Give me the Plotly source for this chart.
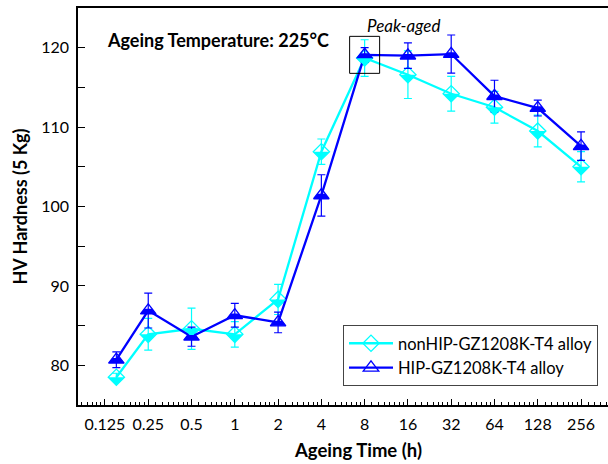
import numpy as np
import plotly.graph_objects as go

# ---------------- data ----------------
times = [0.15, 0.25, 0.5, 1, 2, 4, 8, 16, 32, 64, 128, 256]
nonhip = [78.5, 83.9, 84.6, 83.9, 88.3, 106.9, 118.7, 116.6, 114.2, 112.5, 109.5, 105.0]
nonhip_err = [0.5, 2.0, 2.6, 1.6, 1.9, 1.6, 2.3, 3.0, 2.2, 2.0, 2.0, 1.9]
hip = [80.7, 86.9, 83.6, 86.3, 85.4, 101.4, 119.1, 119.0, 119.2, 113.9, 112.4, 107.6]
hip_err = [1.0, 2.2, 1.2, 1.5, 1.3, 2.6, 0.9, 1.6, 2.4, 2.0, 1.0, 1.8]
tick_vals = [0.125, 0.25, 0.5, 1, 2, 4, 8, 16, 32, 64, 128, 256]
tick_text = ["0.125", "0.25", "0.5", "1", "2", "4", "8", "16", "32", "64", "128", "256"]
names = ["nonHIP-GZ1208K-T4 alloy", "HIP-GZ1208K-T4 alloy"]

CYAN = "#00FFFF"
BLUE = "#0000FF"
FONT = "Lato"

W, H = 608, 464
ML, MR, MT, MB = 78, 0, 8, 59
PW, PH = W - ML - MR, H - MT - MB

fig = go.Figure()

D_SIZE = 12.5
T_SIZE = 13.5

fig.add_trace(go.Scatter(
    x=times, y=nonhip, name=names[0], mode="lines+markers",
    line=dict(color=CYAN, width=2.3),
    marker=dict(symbol="diamond-open", size=D_SIZE, color=CYAN, line=dict(width=1.3, color=CYAN)),
    error_y=dict(type="data", array=nonhip_err, visible=True, color=CYAN, thickness=1.2, width=4),
))
fig.add_trace(go.Scatter(
    x=times, y=hip, name=names[1], mode="lines+markers",
    line=dict(color=BLUE, width=2.3),
    marker=dict(symbol="triangle-up-open", size=T_SIZE, color=BLUE, line=dict(width=1.3, color=BLUE)),
    error_y=dict(type="data", array=hip_err, visible=True, color=BLUE, thickness=1.2, width=4),
))

# x range of the log axis (log10 units), padded by ~0.62 doubling each side
xr = [np.log10(0.125) - 0.623 * np.log10(2), np.log10(256) + 0.623 * np.log10(2)]

# half-filled marker overlays (lower half filled)
rd = 0.65 * D_SIZE
diamond_half = f"M{-rd},0 L{rd},0 L0,{-rd} Z"
r = T_SIZE / 2
rt = r * 2 / np.sqrt(3)
tri_half = f"M{-rt},{-r/2} L{rt},{-r/2} L{rt/2},{r/4} L{-rt/2},{r/4} Z"

shapes = []
for t, v in zip(times, nonhip):
    shapes.append(dict(type="path", xref="x2", yref="y", xsizemode="pixel", ysizemode="pixel",
                       xanchor=float(np.log10(t)), yanchor=v, path=diamond_half, fillcolor=CYAN,
                       line=dict(width=0), layer="above"))
for t, v in zip(times, hip):
    shapes.append(dict(type="path", xref="x2", yref="y", xsizemode="pixel", ysizemode="pixel",
                       xanchor=float(np.log10(t)), yanchor=v, path=tri_half, fillcolor=BLUE,
                       line=dict(width=0), layer="above"))
# peak-aged box
shapes.append(dict(type="rect", xref="x2", yref="y", xsizemode="pixel", ysizemode="pixel",
                   xanchor=float(np.log10(times[6])), yanchor=hip[6], x0=-15, x1=15, y0=-18.5, y1=18.5,
                   line=dict(color="black", width=1), layer="above"))

# legend placement and half-filled legend symbols
LEG_X, LEG_Y = 0.5, 0.2015
ITEM_W = 44
leg_left_px = ML + LEG_X * PW
leg_top_px = MT + (1 - LEG_Y) * PH
sym_x = (leg_left_px + 1 + (ITEM_W + 10) / 2 - ML) / PW
for i, path in enumerate([diamond_half, tri_half]):
    row_px = leg_top_px + 18 + 24.5 * i
    shapes.append(dict(type="path", xref="paper", yref="paper", xsizemode="pixel", ysizemode="pixel",
                       xanchor=sym_x, yanchor=1 - (row_px - MT) / PH, path=path,
                       fillcolor=[CYAN, BLUE][i], line=dict(width=0), layer="above"))

# minor ticks on log2 axis: 8 linear subdivisions of each doubling
minor_vals = []
for k in range(-5, 9):
    base = 2.0 ** k
    for j in range(1, 8):
        minor_vals.append(base * (1 + j / 8))

fig.update_layout(
    width=W, height=H,
    margin=dict(l=ML, r=MR, t=MT, b=MB),
    paper_bgcolor="white", plot_bgcolor="white",
    font=dict(family=FONT, size=16, color="black"),
    showlegend=True,
    legend=dict(x=LEG_X, y=LEG_Y, xanchor="left", yanchor="top", itemwidth=ITEM_W,
                bordercolor="#444", borderwidth=1, bgcolor="white",
                font=dict(family=FONT, size=16.5, color="black")),
    shapes=shapes,
    xaxis2=dict(overlaying="x", type="linear", range=xr, visible=False, showgrid=False, zeroline=False),
    annotations=[
        dict(text="<b>Ageing Temperature: 225°C</b>", xref="paper", yref="paper",
             x=0.05, y=0.919, xanchor="left", yanchor="middle", showarrow=False,
             font=dict(family=FONT, size=18, color="black")),
        dict(text="<i>Peak-aged</i>", xref="paper", yref="paper",
             x=0.615, y=0.957, xanchor="center", yanchor="middle", showarrow=False,
             font=dict(family=FONT, size=17, color="black")),
        dict(text="<b>Ageing Time (h)</b>", xref="paper", yref="paper",
             x=0.528, y=-0.1134, xanchor="center", yanchor="middle", showarrow=False,
             font=dict(family=FONT, size=18.5, color="black")),
    ],
    xaxis=dict(
        type="log", range=xr,
        tickmode="array", tickvals=tick_vals, ticktext=tick_text,
        ticks="inside", ticklen=6, tickwidth=1.2, tickcolor="black",
        minor=dict(tickmode="array", tickvals=minor_vals, ticks="inside", ticklen=3, tickwidth=1, tickcolor="black"),
        showline=True, linecolor="black", linewidth=1.5, mirror=True,
        showgrid=False, zeroline=False,
        tickfont=dict(family=FONT, size=16),
        ticklabelstandoff=4,
    ),
    yaxis=dict(
        range=[75, 125], dtick=10, tick0=80,
        ticks="inside", ticklen=7, tickwidth=1.2, tickcolor="black",
        minor=dict(dtick=5, ticks="inside", ticklen=7, tickwidth=1.2, tickcolor="black"),
        showline=True, linecolor="black", linewidth=1.5,
        showgrid=False, zeroline=False,
        tickfont=dict(family=FONT, size=16),
        ticklabelstandoff=4,
        title=dict(text="<b>HV Hardness (5 Kg)</b>", font=dict(family=FONT, size=18), standoff=9),
    ),
)

fig.write_html("out.html", config={"displayModeBar": False},
               post_script="document.body.style.margin='0px';")
